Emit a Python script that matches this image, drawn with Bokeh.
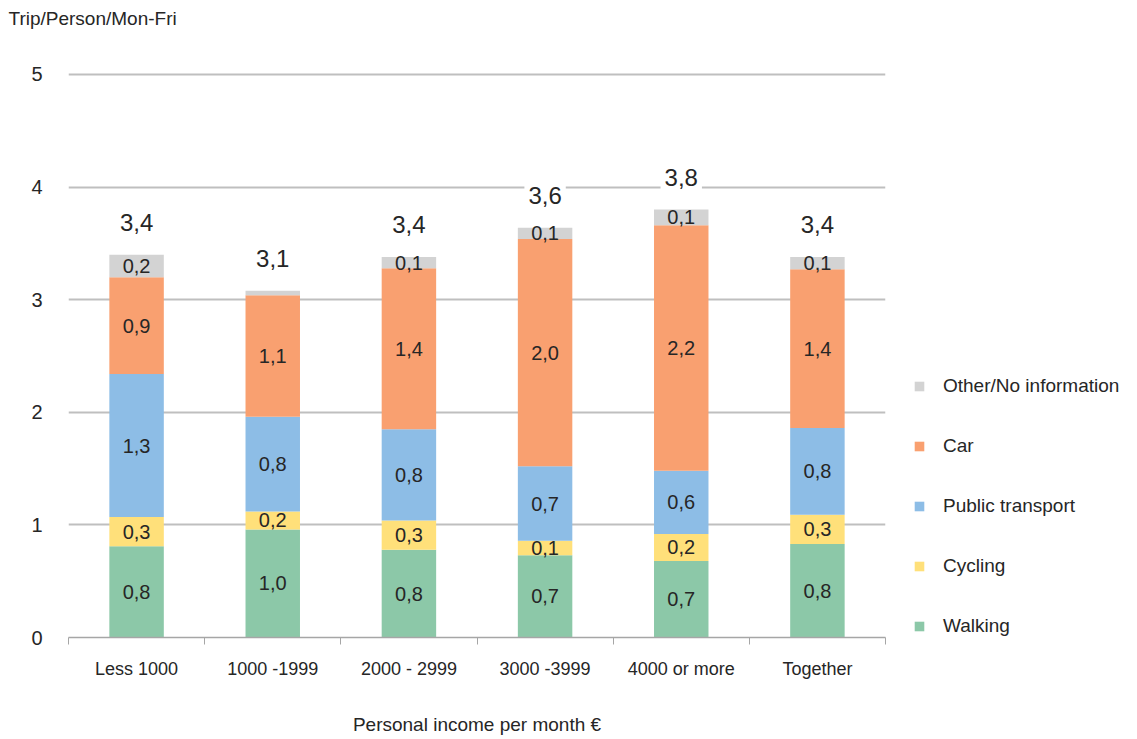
import numpy as np
from bokeh.plotting import figure
from bokeh.models import ColumnDataSource, Legend, LegendItem, FixedTicker, Range1d
from bokeh.core.properties import value
from bokeh.embed import file_html
from bokeh.resources import INLINE

categories = ["Less 1000", "1000 -1999", "2000 - 2999", "3000 -3999", "4000 or more", "Together"]
walking = [0.81, 0.96, 0.78, 0.73, 0.68, 0.83]
cycling = [0.26, 0.16, 0.26, 0.13, 0.24, 0.26]
public_transport = [1.27, 0.84, 0.81, 0.66, 0.56, 0.77]
car = [0.86, 1.08, 1.43, 2.02, 2.18, 1.41]
other = [0.20, 0.04, 0.10, 0.10, 0.14, 0.11]
modes = ["Walking", "Cycling", "Public transport", "Car", "Other/No information"]
mode_colors = ["#8CC8A8", "#FFE07A", "#8DBDE6", "#F9A070", "#D3D3D3"]
y_ticks = [0, 1, 2, 3, 4, 5]

FONT = "Liberation Sans"

def fmt(v):
    return f"{v:.1f}".replace(".", ",")

n = len(categories)
xs = np.arange(n) + 0.5
series = [walking, cycling, public_transport, car, other]
keys = ["walking", "cycling", "pt", "car", "other"]

data = {"x": xs}
for k, s in zip(keys, series):
    data[k] = s
src = ColumnDataSource(data)

p = figure(frame_width=817, frame_height=604, min_border_left=68, min_border_right=252,
           min_border_top=29, min_border_bottom=100,
           x_range=Range1d(0, n), y_range=Range1d(0, 5.364),
           output_backend="svg", toolbar_location=None,
           title="Trip/Person/Mon-Fri")

renderers = p.vbar_stack(keys, x="x", width=0.4, source=src, color=mode_colors,
                         line_color=None)

# segment labels
lx, ly, lt = [], [], []
cum = np.zeros(n)
for s in series:
    arr = np.array(s)
    for i in range(n):
        if round(arr[i], 1) >= 0.1 and arr[i] >= 0.05:
            lx.append(xs[i])
            ly.append(cum[i] + arr[i] / 2)
            lt.append(fmt(arr[i]))
    cum = cum + arr
p.text(x=lx, y=ly, text=lt, text_align="center", text_baseline="middle",
       text_font=value(FONT), text_font_size="20px", text_color="#262626")

# totals
totals = cum
p.text(x=list(xs), y=list(totals), text=[fmt(t) for t in totals], text_align="center",
       text_baseline="bottom", y_offset=-20, text_font=value(FONT), text_font_size="24px",
       text_color="#262626", background_fill_color="white", padding=4)

legend = Legend(items=[LegendItem(label=m, renderers=[r]) for m, r in zip(modes[::-1], renderers[::-1])],
                location=(28, 0), glyph_width=12, glyph_height=12, label_standoff=18,
                spacing=38, padding=0, margin=0, border_line_color=None,
                label_text_font=FONT, label_text_font_size="19px", label_text_color="#262626",
                label_height=20)
p.add_layout(legend, "right")

# title
p.title.text_font = FONT
p.title.text_font_size = "19px"
p.title.text_font_style = "normal"
p.title.text_color = "#262626"
p.title.align = "left"
p.title.offset = -60

# y axis
p.yaxis.ticker = FixedTicker(ticks=y_ticks)
p.yaxis.axis_line_color = None
p.yaxis.major_tick_line_color = None
p.yaxis.minor_tick_line_color = None
p.yaxis.major_label_text_font = FONT
p.yaxis.major_label_text_font_size = "20px"
p.yaxis.major_label_text_color = "#262626"
p.yaxis.major_label_standoff = 20

# x axis
p.xaxis.ticker = FixedTicker(ticks=list(xs), minor_ticks=list(range(n + 1)))
p.xaxis.major_label_overrides = {float(x): c for x, c in zip(xs, categories)}
p.xaxis.major_tick_line_color = None
p.xaxis.minor_tick_line_color = "#A6A6A6"
p.xaxis.minor_tick_in = 0
p.xaxis.minor_tick_out = 7
p.xaxis.axis_line_color = "#A6A6A6"
p.xaxis.axis_line_width = 1.5
p.xaxis.major_label_text_font = FONT
p.xaxis.major_label_text_font_size = "18px"
p.xaxis.major_label_text_color = "#262626"
p.xaxis.major_label_standoff = 14
p.xaxis.axis_label = "Personal income per month €"
p.xaxis.axis_label_text_font = FONT
p.xaxis.axis_label_text_font_size = "19px"
p.xaxis.axis_label_text_font_style = "normal"
p.xaxis.axis_label_text_color = "#262626"
p.xaxis.axis_label_standoff = 32

p.xgrid.grid_line_color = None
p.ygrid.grid_line_color = "#BFBFBF"
p.ygrid.grid_line_width = 2
p.outline_line_color = None

open("out.html", "w").write(file_html(p, INLINE))
